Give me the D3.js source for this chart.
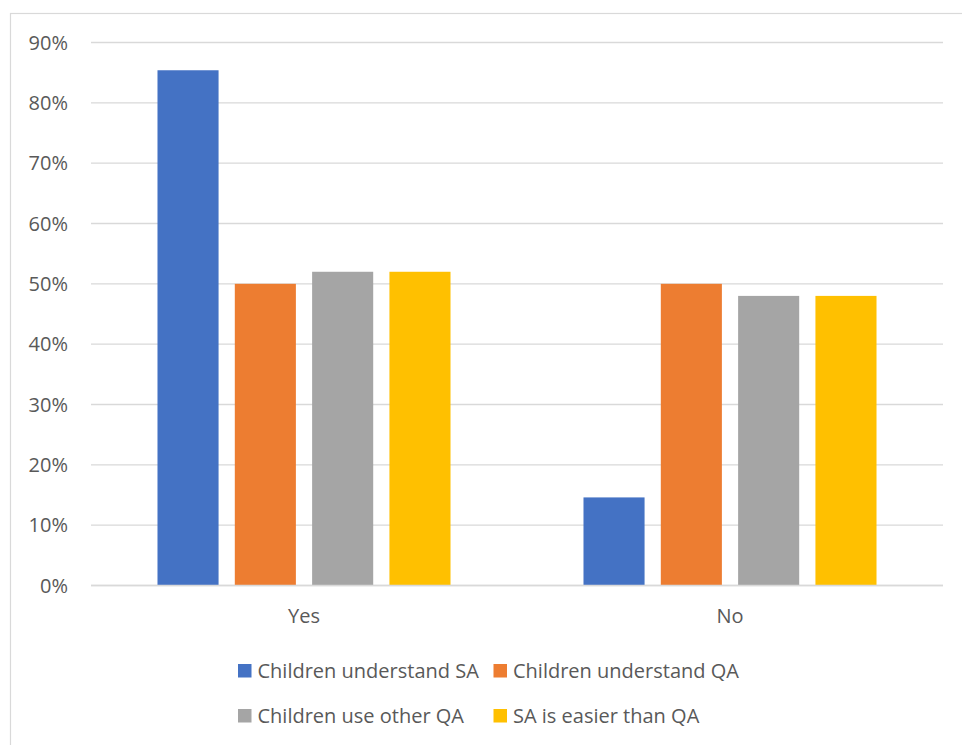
<!DOCTYPE html>
<html>
<head>
<meta charset="utf-8">
<script src="https://cdn.jsdelivr.net/npm/d3@7"></script>
<style>
  body { margin: 0; background: #fff; }
  text { font-family: "Open Sans", "Noto Sans", sans-serif; fill: #595959; }
</style>
</head>
<body>
<svg id="chart"></svg>
<script>
// Data
const categories = ["Yes", "No"];
const seriesNames = ["Children understand SA", "Children understand QA", "Children use other QA", "SA is easier than QA"];
const seriesColors = ["#4472C4", "#ED7D31", "#A5A5A5", "#FFC000"];
const values = [
    [0.854, 0.50, 0.52, 0.52],  // Yes
    [0.146, 0.50, 0.48, 0.48]   // No
];
const yTicks = [0, 0.1, 0.2, 0.3, 0.4, 0.5, 0.6, 0.7, 0.8, 0.9];

const width = 962, height = 745;
const margin = { left: 91, right: 19, top: 42.5, bottom: 159.5 };

const svg = d3.select("#chart")
    .attr("width", width)
    .attr("height", height);

// chart frame
svg.append("rect")
    .attr("x", 10.5).attr("y", 13.5)
    .attr("width", width).attr("height", height)
    .attr("fill", "none")
    .attr("stroke", "#D9D9D9")
    .attr("stroke-width", 1.2);

const x0 = d3.scaleBand()
    .domain(categories)
    .range([margin.left, width - margin.right]);

const x1 = d3.scaleBand()
    .domain(seriesNames)
    .range([0, x0.bandwidth()])
    .paddingInner(0.21)
    .paddingOuter(0.86);

const y = d3.scaleLinear()
    .domain([0, 0.9])
    .range([height - margin.bottom, margin.top]);

// gridlines
svg.append("g")
    .selectAll("line")
    .data(yTicks)
    .join("line")
    .attr("x1", margin.left)
    .attr("x2", width - margin.right)
    .attr("y1", d => y(d))
    .attr("y2", d => y(d))
    .attr("stroke", "#D9D9D9")
    .attr("stroke-width", 1.3);

// y labels
svg.append("g")
    .selectAll("text")
    .data(yTicks)
    .join("text")
    .attr("x", 68)
    .attr("y", d => y(d))
    .attr("dy", "0.36em")
    .attr("text-anchor", "end")
    .style("font-size", "20px")
    .text(d => d3.format(".0%")(d));

// bars
const groups = svg.append("g")
    .selectAll("g")
    .data(categories)
    .join("g")
    .attr("transform", d => `translate(${x0(d)},0)`);

groups.selectAll("rect")
    .data((d, i) => values[i].map((v, j) => ({ name: seriesNames[j], value: v, color: seriesColors[j] })))
    .join("rect")
    .attr("x", d => x1(d.name))
    .attr("width", x1.bandwidth())
    .attr("y", d => y(d.value))
    .attr("height", d => y(0) - y(d.value))
    .attr("fill", d => d.color);

// baseline on top of bars
svg.append("line")
    .attr("x1", margin.left).attr("x2", width - margin.right)
    .attr("y1", y(0)).attr("y2", y(0))
    .attr("stroke", "#D9D9D9")
    .attr("stroke-width", 1.3);

// category labels
svg.append("g")
    .selectAll("text")
    .data(categories)
    .join("text")
    .attr("x", d => x0(d) + x0.bandwidth() / 2)
    .attr("y", 623)
    .attr("text-anchor", "middle")
    .style("font-size", "20px")
    .text(d => d);

// legend, two rows of two
const legendCols = [238, 493.5];
const legendRows = [671, 716];
const legend = svg.append("g")
    .selectAll("g")
    .data(seriesNames)
    .join("g")
    .attr("transform", (d, i) => `translate(${legendCols[i % 2]},${legendRows[Math.floor(i / 2)]})`);

legend.append("rect")
    .attr("x", 0).attr("y", -7)
    .attr("width", 13.5).attr("height", 13.5)
    .attr("fill", (d, i) => seriesColors[i]);

legend.append("text")
    .attr("x", 19.5)
    .attr("y", 0)
    .attr("dy", "0.36em")
    .style("font-size", "20px")
    .text(d => d);
</script>
</body>
</html>
